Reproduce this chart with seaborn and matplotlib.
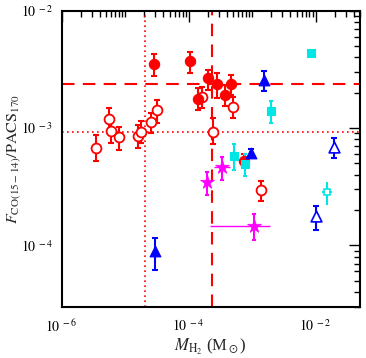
import numpy as np
import matplotlib
matplotlib.use("Agg")
import matplotlib.pyplot as plt
import seaborn as sns
from matplotlib.ticker import LogLocator, FuncFormatter, NullFormatter, FixedLocator

# ---- data -----------------------------------------------------------
# filled red circles
rf_x = [2.85e-5, 1.06e-4, 1.39e-4, 2.0e-4, 2.78e-4, 3.78e-4, 4.58e-4, 7.4e-4]
rf_y = [3.5e-3, 3.73e-3, 1.77e-3, 2.65e-3, 2.38e-3, 1.92e-3, 2.36e-3, 5.26e-4]
rf_hi = [4.25e-3, 4.42e-3, 2.18e-3, 3.13e-3, 2.97e-3, 2.33e-3, 2.83e-3, 6.0e-4]
rf_lo = [2.78e-3, 2.97e-3, 1.43e-3, 2.11e-3, 1.79e-3, 1.55e-3, 1.92e-3, 4.7e-4]

# open red circles
ro_x = [3.47e-6, 5.6e-6, 5.9e-6, 7.9e-6, 1.6e-5, 1.75e-5, 2.59e-5, 3.22e-5,
        1.65e-4, 2.43e-4, 4.99e-4, 1.37e-3]
ro_y = [6.8e-4, 1.2e-3, 9.46e-4, 8.36e-4, 8.57e-4, 9.3e-4, 1.12e-3, 1.42e-3,
        1.85e-3, 9.27e-4, 1.51e-3, 2.94e-4]
ro_hi = [8.75e-4, 1.48e-3, 1.21e-3, 1.03e-3, 1.06e-3, 1.14e-3, 1.34e-3, 1.74e-3,
         2.23e-3, 1.21e-3, 1.85e-3, 3.55e-4]
ro_lo = [5.19e-4, 9.33e-4, 7.43e-4, 6.52e-4, 6.73e-4, 7.43e-4, 9.04e-4, 1.10e-3,
         1.48e-3, 7.28e-4, 1.21e-3, 2.37e-4]

# filled blue triangles
bf_x = [3.0e-5, 1.51e-3, 9.5e-4]
bf_y = [8.9e-5, 2.57e-3, 6.1e-4]
bf_hi = [1.15e-4, 3.08e-3, 6.6e-4]
bf_lo = [6.2e-5, 2.05e-3, 5.65e-4]

# open blue triangles
bo_x = [1.93e-2, 1.03e-2]
bo_y = [6.96e-4, 1.77e-4]
bo_hi = [8.2e-4, 2.15e-4]
bo_lo = [5.53e-4, 1.36e-4]

# filled cyan squares
cf_x = [8.5e-3, 1.98e-3, 5.18e-4, 7.66e-4]
cf_y = [4.4e-3, 1.41e-3, 5.83e-4, 4.92e-4]
cf_hi = [4.4e-3, 1.70e-3, 7.28e-4, 6.03e-4]
cf_lo = [4.4e-3, 1.11e-3, 4.35e-4, 3.87e-4]

# open cyan square
co_x = [1.5e-2]
co_y = [2.83e-4]
co_hi = [3.44e-4]
co_lo = [2.22e-4]
co_xlo = [1.26e-2]
co_xhi = [1.82e-2]

# magenta stars
ms_x = [1.95e-4, 3.38e-4, 1.06e-3]
ms_y = [3.44e-4, 4.64e-4, 1.47e-4]
ms_hi = [4.18e-4, 5.72e-4, 1.85e-4]
ms_lo = [2.7e-4, 3.62e-4, 1.12e-4]
ms_xlo = [1.95e-4, 2.55e-4, 2.13e-4]
ms_xhi = [1.95e-4, 4.43e-4, 1.9e-3]

# reference lines
vdash_x = 2.34e-4
vdot_x = 2.03e-5
hdash_y = 2.36e-3
hdot_y = 9.3e-4

# axis ticks
xticks = [1e-6, 1e-4, 1e-2]
yticks = [1e-4, 1e-3, 1e-2]

# ---- plot -----------------------------------------------------------
sns.set_theme(style="white")
plt.rcParams['font.family'] = ['Liberation Serif', 'DejaVu Serif']
plt.rcParams['mathtext.fontset'] = 'stix'

fig = plt.figure(figsize=(3.66, 3.58), dpi=100)
ax = fig.add_axes([0.1686, 0.1433, 0.815, 0.8267])

ax.set_xscale('log')
ax.set_yscale('log')
ax.set_xlim(1e-6, 5e-2)
ax.set_ylim(3e-5, 1e-2)

red = '#ff0000'
blue = '#0000ff'
cyan = '#00e5e5'
mag = '#ff00ff'

ax.axvline(vdash_x, color=red, lw=1.5, ls=(0, (6, 4)), zorder=1)
ax.axhline(hdash_y, color=red, lw=1.5, ls=(0, (6, 4)), zorder=1)
ax.axvline(vdot_x, color=red, lw=1.2, ls=(0, (1, 2)), zorder=1)
ax.axhline(hdot_y, color=red, lw=1.2, ls=(0, (1, 2)), zorder=1)

def eb(x, y, lo, hi, color, cap=2.5, lw=1.5, xlo=None, xhi=None, xlw=None):
    x = np.array(x); y = np.array(y)
    yerr = [y - np.array(lo), np.array(hi) - y]
    ax.errorbar(x, y, yerr=yerr, fmt='none', ecolor=color, elinewidth=lw,
                capsize=cap, capthick=lw, zorder=2)
    if xlo is not None:
        xerr = [x - np.array(xlo), np.array(xhi) - x]
        ax.errorbar(x, y, xerr=xerr, fmt='none', ecolor=color,
                    elinewidth=xlw or lw, capsize=0, zorder=2)

eb(rf_x, rf_y, rf_lo, rf_hi, red)
eb(ro_x, ro_y, ro_lo, ro_hi, red)
eb(bf_x, bf_y, bf_lo, bf_hi, blue)
eb(bo_x, bo_y, bo_lo, bo_hi, blue, cap=2)
eb(cf_x, cf_y, cf_lo, cf_hi, cyan, cap=1.5)
eb(co_x, co_y, co_lo, co_hi, cyan, cap=0, xlo=co_xlo, xhi=co_xhi)
eb(ms_x, ms_y, ms_lo, ms_hi, mag, cap=1.5, xlo=ms_xlo, xhi=ms_xhi, xlw=1.0)

sns.scatterplot(x=ro_x, y=ro_y, ax=ax, marker='o', s=50, color='white',
                edgecolor=red, linewidth=1.3, zorder=3)
sns.scatterplot(x=rf_x, y=rf_y, ax=ax, marker='o', s=55, color=red,
                edgecolor=red, linewidth=0.8, zorder=3)
sns.scatterplot(x=cf_x, y=cf_y, ax=ax, marker='s', s=40, color=cyan,
                edgecolor=cyan, linewidth=0.8, zorder=4)
sns.scatterplot(x=co_x, y=co_y, ax=ax, marker='s', s=22, color='white',
                edgecolor=cyan, linewidth=1.2, zorder=4)
sns.scatterplot(x=bf_x, y=bf_y, ax=ax, marker='^', s=60, color=blue,
                edgecolor=blue, linewidth=0.8, zorder=4)
sns.scatterplot(x=bo_x, y=bo_y, ax=ax, marker='^', s=60, color='white',
                edgecolor=blue, linewidth=1.2, zorder=3)
sns.scatterplot(x=ms_x, y=ms_y, ax=ax, marker='*', s=110, color=mag,
                edgecolor=mag, linewidth=0.5, zorder=4)

# ticks
ax.xaxis.set_major_locator(FixedLocator(xticks))
ax.xaxis.set_minor_locator(LogLocator(base=10, subs=np.arange(1, 10), numticks=20))
ax.yaxis.set_major_locator(FixedLocator(yticks))
ax.yaxis.set_minor_locator(LogLocator(base=10, subs=np.arange(2, 10), numticks=20))
fmt = FuncFormatter(lambda v, p: r'$10^{\ %d}$' % int(round(np.log10(v))))
ax.xaxis.set_major_formatter(fmt)
ax.yaxis.set_major_formatter(fmt)
ax.xaxis.set_minor_formatter(NullFormatter())
ax.yaxis.set_minor_formatter(NullFormatter())
ax.tick_params(which='both', direction='in', top=True, right=True,
               color='black', width=1.0, labelsize=10, colors='black')
ax.tick_params(which='major', length=8)
ax.tick_params(which='minor', length=4)
ax.tick_params(axis='x', which='major', pad=8)
ax.tick_params(axis='y', which='major', pad=6)
for s in ax.spines.values():
    s.set_color('black')
    s.set_linewidth(1.5)

ax.set_xlabel(r'$M_{\rm H_2}$ (M$_\odot$)', fontsize=12, labelpad=2)
ax.set_ylabel(r'$F_{\rm CO(15-14)}/{\rm PACS}_{170}$', fontsize=11.5)
ax.yaxis.set_label_coords(-0.13, 0.5)

fig.savefig('out.png', dpi=100)
